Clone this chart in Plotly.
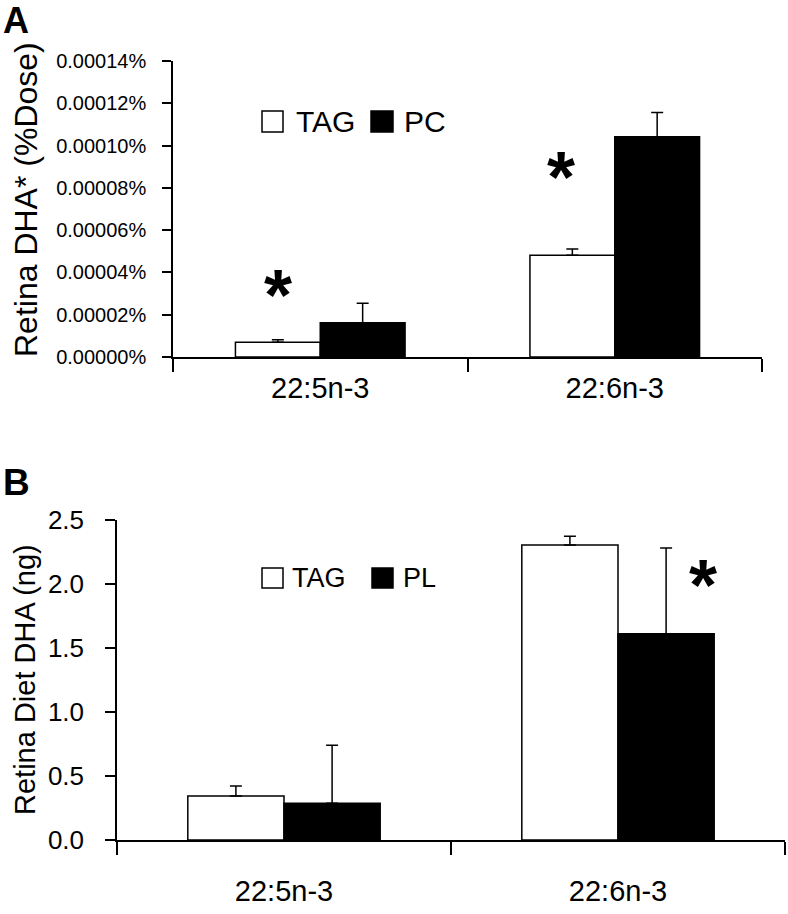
import plotly.graph_objects as go

# ---------------- data ----------------
categories = ["22:5n-3", "22:6n-3"]

# Panel A: Retina DHA* (%Dose)
a_tag = [0.0000070, 0.0000481]
a_tag_err = [0.0000012, 0.0000030]
a_pc = [0.0000162, 0.0001042]
a_pc_err = [0.0000092, 0.0000115]
a_ticks = [0.0, 0.00002, 0.00004, 0.00006, 0.00008, 0.00010, 0.00012, 0.00014]
a_ticktext = [f"{v:.5f}%" for v in a_ticks]

# Panel B: Retina Diet DHA (ng)
b_tag = [0.344, 2.305]
b_tag_err = [0.078, 0.068]
b_pl = [0.287, 1.612]
b_pl_err = [0.453, 0.670]
b_ticks = [0.0, 0.5, 1.0, 1.5, 2.0, 2.5]
b_ticktext = [f"{v:.1f}" for v in b_ticks]

W, H = 788, 914
FONT = "Liberation Sans, Arial, sans-serif"


def px(x):
    return x / W


def py(y):
    return 1 - y / H


fig = go.Figure()

err_style = dict(type="data", symmetric=False, color="black", thickness=1.5, width=6)

fig.add_trace(go.Bar(x=categories, y=a_tag, name="TAG", xaxis="x", yaxis="y",
                     marker=dict(color="white", line=dict(color="black", width=1.5)),
                     error_y=dict(array=a_tag_err, arrayminus=[0, 0], **err_style)))
fig.add_trace(go.Bar(x=categories, y=a_pc, name="PC", xaxis="x", yaxis="y",
                     marker=dict(color="black", line=dict(color="black", width=1.5)),
                     error_y=dict(array=a_pc_err, arrayminus=[0, 0], **err_style)))
fig.add_trace(go.Bar(x=categories, y=b_tag, name="TAG", xaxis="x2", yaxis="y2",
                     marker=dict(color="white", line=dict(color="black", width=1.5)),
                     error_y=dict(array=b_tag_err, arrayminus=[0, 0], **err_style)))
fig.add_trace(go.Bar(x=categories, y=b_pl, name="PL", xaxis="x2", yaxis="y2",
                     marker=dict(color="black", line=dict(color="black", width=1.5)),
                     error_y=dict(array=b_pl_err, arrayminus=[0, 0], **err_style)))

axis_common = dict(showline=True, linecolor="black", linewidth=1.5, showgrid=False,
                   zeroline=False, ticks="outside", tickcolor="black", tickwidth=1.5,
                   automargin=False)

fig.update_layout(
    template="none",
    width=W, height=H, autosize=False,
    margin=dict(l=0, r=0, t=0, b=0, pad=0),
    paper_bgcolor="white", plot_bgcolor="white",
    showlegend=False,
    barmode="group", bargap=0.424, bargroupgap=0,
    font=dict(family=FONT, color="black"),
    xaxis=dict(domain=[px(173), px(762)], anchor="y", type="category",
               range=[-0.5, 1.5], tickson="boundaries", ticklen=13,
               tickfont=dict(size=29), ticklabelstandoff=4, **axis_common),
    yaxis=dict(domain=[py(357), py(61)], anchor="x", range=[0, 0.00014],
               tickvals=a_ticks, ticktext=a_ticktext, ticklen=9,
               tickfont=dict(size=20), ticklabelstandoff=12, **axis_common),
    xaxis2=dict(domain=[px(117), px(785)], anchor="y2", type="category",
                range=[-0.5, 1.5], tickson="boundaries", ticklen=13,
                tickfont=dict(size=29), ticklabelstandoff=24, **axis_common),
    yaxis2=dict(domain=[py(840), py(520)], anchor="x2", range=[0, 2.5],
                tickvals=b_ticks, ticktext=b_ticktext, ticklen=10,
                tickfont=dict(size=26), ticklabelstandoff=16, **axis_common),
)

annotations = []
# panel letters
annotations.append(dict(text="<b>A</b>", x=px(1), y=py(21), xref="paper", yref="paper",
                        xanchor="left", yanchor="middle", showarrow=False,
                        font=dict(size=36, family=FONT)))
annotations.append(dict(text="<b>B</b>", x=px(1), y=py(482), xref="paper", yref="paper",
                        xanchor="left", yanchor="middle", showarrow=False,
                        font=dict(size=37, family=FONT)))
# y axis titles
annotations.append(dict(text="Retina DHA* (%Dose)", x=px(26), y=py(200), xref="paper",
                        yref="paper", xanchor="center", yanchor="middle", textangle=-90,
                        showarrow=False, font=dict(size=32, family=FONT)))
annotations.append(dict(text="Retina Diet DHA (ng)", x=px(25), y=py(680), xref="paper",
                        yref="paper", xanchor="center", yanchor="middle", textangle=-90,
                        showarrow=False, font=dict(size=29, family=FONT)))


# legends
def legend_text(t, x, y, size):
    return dict(text=t, x=px(x), y=py(y), xref="paper", yref="paper", xanchor="left",
                yanchor="middle", showarrow=False, font=dict(size=size, family=FONT))


annotations += [legend_text("TAG", 294, 121, 30), legend_text("PC", 402, 121, 30),
                legend_text("TAG", 290, 578, 27), legend_text("PL", 401, 578, 27)]


# significance asterisks (data coordinates)
def star(x, y, xr, yr):
    return dict(text="<b>*</b>", x=x, y=y, xref=xr, yref=yr, xanchor="center",
                yanchor="middle", showarrow=False, yshift=-10,
                font=dict(size=72, family=FONT))


annotations += [star(-0.144, 0.0000340, "x", "y"), star(0.817, 0.0000898, "x", "y"),
                star(1.254, 2.07, "x2", "y2")]
fig.update_layout(annotations=annotations)

# legend swatches
shapes = []
for (x0, y0, x1, y1, fill) in [(262, 111, 283, 132, "white"), (371, 111, 393, 132, "black"),
                               (262, 568, 283, 588, "white"), (372, 568, 393, 588, "black")]:
    shapes.append(dict(type="rect", xref="paper", yref="paper", x0=px(x0), x1=px(x1),
                       y0=py(y1), y1=py(y0), fillcolor=fill,
                       line=dict(color="black", width=1.5)))
fig.update_layout(shapes=shapes)

# remove the default page margin so the figure sits at the window's top-left corner
fig.write_html("out.html",
               config={"displayModeBar": False},
               post_script="document.body.style.margin='0px';"
                           "document.body.style.overflow='hidden';")
